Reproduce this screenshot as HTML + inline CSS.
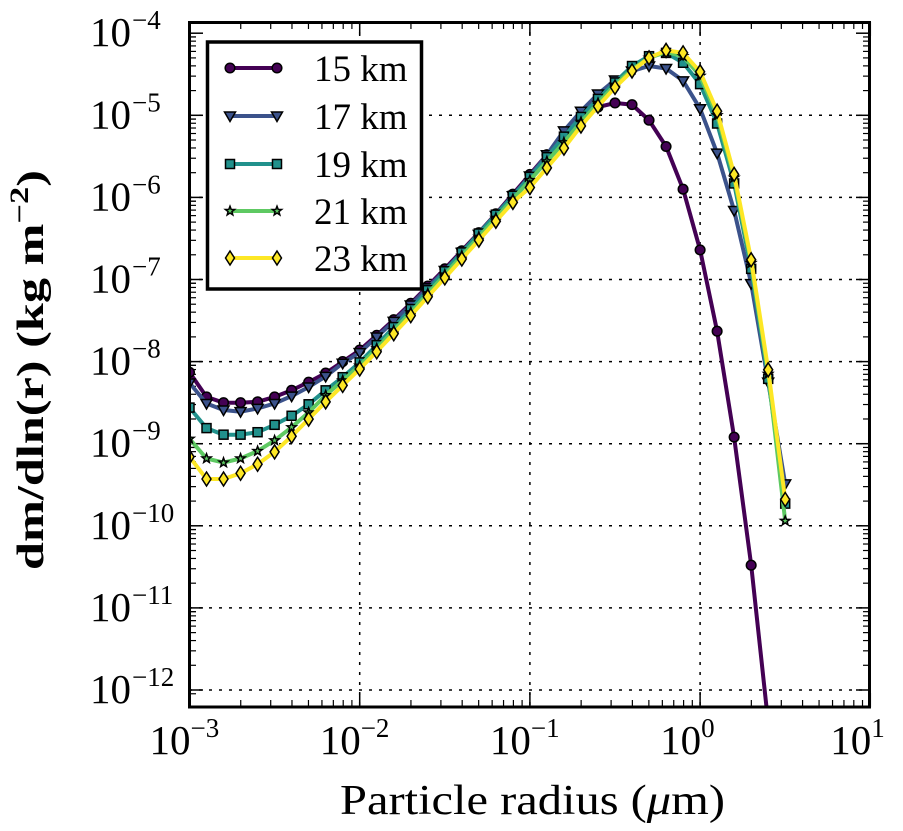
<!DOCTYPE html>
<html><head><meta charset="utf-8"><style>
html,body{margin:0;padding:0;background:#fff;}
svg{display:block;font-family:"Liberation Serif","DejaVu Serif",serif;}
</style></head><body>
<svg id="chart" width="903" height="831" viewBox="0 0 903 831" xmlns="http://www.w3.org/2000/svg">
<defs><clipPath id="pc"><rect x="189" y="22" width="681" height="685"/></clipPath></defs>
<rect width="903" height="831" fill="#fff"/>
<g id="grid"></g>
<g id="ticks"></g>
<g id="series" clip-path="url(#pc)"></g>
<rect x="189.5" y="22.5" width="680" height="684.5" fill="none" stroke="#000" stroke-width="3"/>
<g id="legend"></g>
<text x="340" y="814" font-size="42" textLength="385" lengthAdjust="spacingAndGlyphs">Particle radius (<tspan font-style="italic">μ</tspan>m)</text>
<text transform="translate(43,570) rotate(-90)" font-size="38" font-weight="bold" textLength="400" lengthAdjust="spacingAndGlyphs">dm/dln(r) (kg m<tspan dy="-15" font-size="26">−2</tspan><tspan dy="15">)</tspan></text>
</svg>
<script>
const logR = [-3,-2.9,-2.8,-2.7,-2.6,-2.5,-2.4,-2.3,-2.2,-2.1,-2.0,-1.9,-1.8,-1.7,-1.6,-1.5,-1.4,-1.3,-1.2,-1.1,-1.0,-0.9,-0.8,-0.7,-0.6,-0.5,-0.4,-0.3,-0.2,-0.1,0.0,0.1,0.2,0.3,0.4,0.5];
const labels = ["15 km","17 km","19 km","21 km","23 km"];
const colors = ["#440154","#3b528b","#21918c","#5ec962","#fde725"];
const markers = ["circle","tri","square","star","diamond"];
const s15 = [-8.13,-8.43,-8.50,-8.50,-8.49,-8.43,-8.35,-8.25,-8.14,-8.00,-7.86,-7.68,-7.49,-7.29,-7.08,-6.87,-6.65,-6.43,-6.20,-5.96,-5.72,-5.48,-5.28,-5.07,-4.90,-4.85,-4.87,-5.06,-5.38,-5.90,-6.64,-7.63,-8.92,-10.48,-12.4];
const s17 = [-8.26,-8.51,-8.59,-8.61,-8.57,-8.51,-8.42,-8.31,-8.18,-8.02,-7.89,-7.70,-7.51,-7.31,-7.10,-6.89,-6.67,-6.45,-6.22,-5.98,-5.74,-5.48,-5.19,-4.95,-4.74,-4.57,-4.46,-4.40,-4.43,-4.58,-4.92,-5.46,-6.16,-7.05,-8.25,-9.49];
const s19 = [-8.56,-8.81,-8.89,-8.89,-8.86,-8.77,-8.66,-8.52,-8.35,-8.19,-8.01,-7.80,-7.58,-7.36,-7.13,-6.90,-6.67,-6.44,-6.21,-5.98,-5.75,-5.51,-5.26,-5.02,-4.80,-4.60,-4.40,-4.28,-4.24,-4.36,-4.62,-5.10,-5.83,-6.87,-8.21,-9.73];
const s21 = [-8.94,-9.18,-9.23,-9.18,-9.09,-8.96,-8.80,-8.62,-8.41,-8.23,-8.05,-7.84,-7.62,-7.40,-7.17,-6.94,-6.71,-6.48,-6.25,-6.02,-5.79,-5.56,-5.33,-5.08,-4.85,-4.63,-4.44,-4.30,-4.23,-4.28,-4.52,-5.00,-5.76,-6.80,-8.15,-9.94];
const s23 = [-9.16,-9.43,-9.43,-9.36,-9.25,-9.10,-8.91,-8.70,-8.49,-8.29,-8.09,-7.88,-7.66,-7.44,-7.21,-6.98,-6.75,-6.52,-6.29,-6.06,-5.88,-5.64,-5.40,-5.13,-4.89,-4.66,-4.46,-4.30,-4.21,-4.24,-4.47,-4.95,-5.72,-6.76,-8.10,-9.68];
const xTickExp = [-3,-2,-1,0,1];
const yTickExp = [-4,-5,-6,-7,-8,-9,-10,-11,-12];

const NS="http://www.w3.org/2000/svg";
const X = l => 189.5 + (l+3)*170.2;
const Y = l => 690 - (l+12)*82.1;
function mk(tag, parent, attrs){const e=document.createElementNS(NS,tag);for(const k in attrs)e.setAttribute(k,attrs[k]);parent.appendChild(e);return e;}
const grid=document.getElementById('grid'), ticks=document.getElementById('ticks');
xTickExp.forEach(e=>{
  const x=X(e);
  if(e>-3&&e<1){const g=mk('line',grid,{x1:x,x2:x,y1:22,y2:707,stroke:'#000','stroke-width':1.5,'stroke-dasharray':'3,7'});
  
  }
  mk('line',ticks,{x1:x,x2:x,y1:707,y2:693,stroke:'#000','stroke-width':1.5});
  mk('line',ticks,{x1:x,x2:x,y1:22,y2:36,stroke:'#000','stroke-width':1.5});
  if(e<1){for(let m=2;m<10;m++){const xm=X(e+Math.log10(m));
    mk('line',ticks,{x1:xm,x2:xm,y1:707,y2:700,stroke:'#000','stroke-width':1.2});
    mk('line',ticks,{x1:xm,x2:xm,y1:22,y2:29,stroke:'#000','stroke-width':1.2});}}
  const t=mk('text',ticks,{x:x-40,y:754,'font-size':41});
  
  
  t.innerHTML='10<tspan dy="-17" font-size="27">'+(e<0?'−'+(-e):e)+'</tspan>';
});
yTickExp.forEach(e=>{
  const y=Y(e);
  if(e<-4){const g=mk('line',grid,{x1:189,x2:870,y1:y,y2:y,stroke:'#000','stroke-width':1.5,'stroke-dasharray':'3,7'});
  
  }
  mk('line',ticks,{x1:189,x2:203,y1:y,y2:y,stroke:'#000','stroke-width':1.5});
  mk('line',ticks,{x1:856,x2:870,y1:y,y2:y,stroke:'#000','stroke-width':1.5});
  for(let m=2;m<10;m++){const ym=Y(e+Math.log10(m)); if(ym<22)continue;
    mk('line',ticks,{x1:189,x2:196,y1:ym,y2:ym,stroke:'#000','stroke-width':1.2});
    mk('line',ticks,{x1:863,x2:870,y1:ym,y2:ym,stroke:'#000','stroke-width':1.2});}
  const ym=Y(e-1+Math.log10(9)); if(ym<707){mk('line',ticks,{x1:189,x2:196,y1:ym,y2:ym,stroke:'#000','stroke-width':1.2});}
  const t=mk('text',ticks,{x:131,y:y+13,'font-size':41,'text-anchor':'end'});
  
  
  t.innerHTML='10<tspan x="132" dy="-17" font-size="27" text-anchor="start">−'+(-e)+'</tspan>';
});
function marker(parent,type,x,y,fill){
  let e;
  if(type==='circle') e=mk('circle',parent,{cx:x,cy:y,r:4.8});
  else if(type==='tri') e=mk('polygon',parent,{points:`${x-5.5},${y-4} ${x+5.5},${y-4} ${x},${y+5.5}`});
  else if(type==='square') e=mk('rect',parent,{x:x-4.5,y:y-4.5,width:9,height:9});
  else if(type==='star'){let p=[];for(let i=0;i<10;i++){const r=i%2?2:4.8,a=-Math.PI/2+i*Math.PI/5;p.push((x+r*Math.cos(a)).toFixed(1)+','+(y+r*Math.sin(a)).toFixed(1));}e=mk('polygon',parent,{points:p.join(' ')});}
  else e=mk('polygon',parent,{points:`${x},${y-7} ${x+4.5},${y} ${x},${y+7} ${x-4.5},${y}`});
  e.setAttribute('fill',fill);e.setAttribute('stroke','#000');e.setAttribute('stroke-width',1.5);
  return e;
}
const seriesData=[s15,s17,s19,s21,s23];
const sg=document.getElementById('series');
seriesData.forEach((s,i)=>{
  const g=mk('g',sg,{});
  
  
  const pts=s.map((v,j)=>X(logR[j]).toFixed(1)+','+Y(v).toFixed(1)).join(' ');
  const pl=mk('polyline',g,{points:pts,fill:'none',stroke:colors[i],'stroke-width':4,'stroke-linejoin':'round'});
  
  
  s.forEach((v,j)=>{const m=marker(g,markers[i],X(logR[j]),Y(v),colors[i]);
    
    });
});
const lg=document.getElementById('legend');
const box=mk('rect',lg,{x:207.5,y:42,width:214,height:247,fill:'#fff',stroke:'#000','stroke-width':3.5});


const ly=[68,116,164,211,258];
labels.forEach((lab,i)=>{
  const g=mk('g',lg,{});
  
  
  mk('line',g,{x1:230,x2:277,y1:ly[i],y2:ly[i],stroke:colors[i],'stroke-width':4});
  marker(g,markers[i],230,ly[i],colors[i]);
  marker(g,markers[i],277,ly[i],colors[i]);
  const t=mk('text',g,{x:314,y:ly[i]+13,'font-size':37});
  t.textContent=lab;
});
</script>
</body></html>
